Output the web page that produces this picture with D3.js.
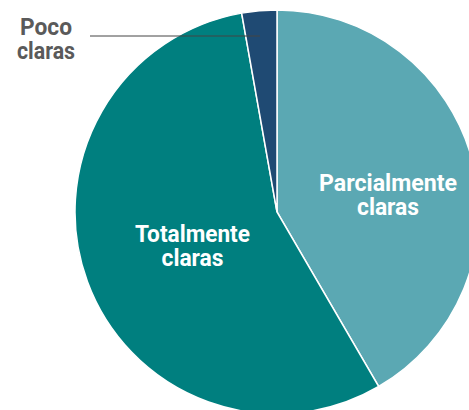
<!DOCTYPE html>
<html><head><meta charset="utf-8">
<script src="https://cdn.jsdelivr.net/npm/d3@7"></script>
<style>body{margin:0;background:#fff;} svg{display:block;font-family:Roboto,"Open Sans",sans-serif;}</style>
</head><body>
<svg id="c" width="469" height="410"></svg>
<script>
const categories = ["Parcialmente claras", "Totalmente claras", "Poco claras"];
const values = [41.6, 55.6, 2.8];
const colors = ["#5ba8b3", "#007f7f", "#1f4a73"];

const svg = d3.select("#c");
const cx = 277, cy = 212, r = 202;
const g = svg.append("g").attr("transform", `translate(${cx},${cy})`);
const pie = d3.pie().sort(null).value(d => d)(values);
const arc = d3.arc().innerRadius(0).outerRadius(r);
g.selectAll("path").data(pie).join("path")
  .attr("d", arc).attr("fill", (d,i) => colors[i])
  .attr("stroke", "#fff").attr("stroke-width", 1.5);

// leader line for small slice
svg.append("line").attr("x1", 90).attr("x2", 260).attr("y1", 36).attr("y2", 36)
  .attr("stroke", "#444").attr("stroke-width", 1);

function label(lines, x, y, fill, size, widths) {
  const t = svg.append("text").attr("text-anchor", "middle").attr("fill", fill)
    .attr("font-weight", "bold").attr("font-size", size);
  lines.forEach((l, i) => {
    const ts = t.append("tspan").attr("x", x).attr("y", y + i * 23.5).text(l);
    if (widths && widths[i]) ts.attr("textLength", widths[i]).attr("lengthAdjust", "spacingAndGlyphs");
  });
}
label(["Parcialmente", "claras"], 388, 191, "#fff", 24, [138, 62]);
label(["Totalmente", "claras"], 192.5, 242, "#fff", 24, [115, 62]);
label(["Poco", "claras"], 46, 35, "#5a5a5a", 24, [52, 58]);
</script>
</body></html>
